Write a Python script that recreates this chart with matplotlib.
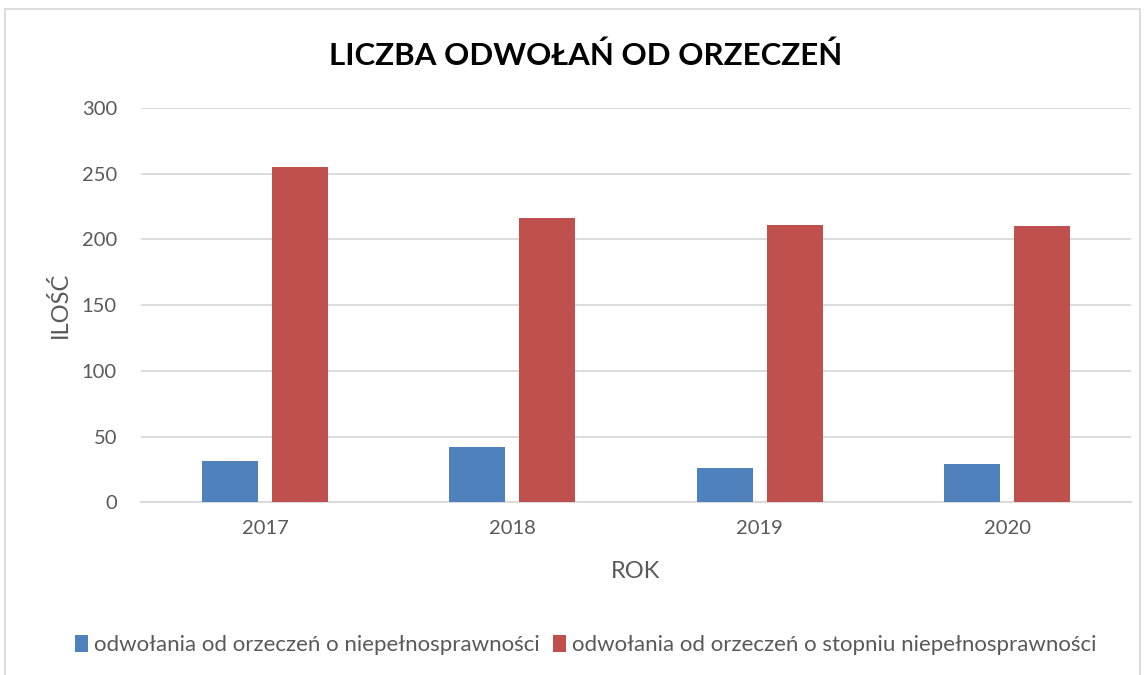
import matplotlib.pyplot as plt
import numpy as np
from matplotlib.patches import Rectangle

lata = ["2017", "2018", "2019", "2020"]
odwolania_niepeln = [31, 42, 26, 29]
odwolania_stopien = [255, 216, 211, 210]
etykiety = ["odwołania od orzeczeń o niepełnosprawności",
            "odwołania od orzeczeń o stopniu niepełnosprawności"]

plt.rcParams['font.family'] = ['Lato', 'DejaVu Sans']
szary = "#595959"

fig = plt.figure(figsize=(11.48, 6.75), dpi=100)
ax = fig.add_axes([0.123, 0.256, 0.862, 0.584])

x = np.arange(len(lata))
w = 0.226
ax.bar(x - 0.142, odwolania_niepeln, w, color="#4F81BD", label=etykiety[0], zorder=3)
ax.bar(x + 0.142, odwolania_stopien, w, color="#C0504D", label=etykiety[1], zorder=3)

ax.set_xlim(-0.5, len(lata) - 0.5)
ax.set_ylim(0, 300)
ax.set_yticks(range(0, 301, 50))
ax.set_xticks(x)
ax.set_xticklabels(lata)
ax.grid(axis="y", color="#d9d9d9", linewidth=1.3, zorder=0)
for s in ["top", "right", "left"]:
    ax.spines[s].set_visible(False)
ax.spines["bottom"].set_color("#d9d9d9")
ax.spines["bottom"].set_linewidth(1.3)
ax.tick_params(length=0, labelsize=14.5, colors=szary)
ax.tick_params(axis="y", pad=17.5)
ax.tick_params(axis="x", pad=13)

ax.set_xlabel("ROK", fontsize=17, color=szary, labelpad=17)
ax.set_ylabel("ILOŚĆ", fontsize=17, color=szary, labelpad=8)

fig.text(0.51, 0.918, "LICZBA ODWOŁAŃ OD ORZECZEŃ", ha="center", va="center",
         fontsize=22.5, fontweight="bold", color="black")

fig.legend(loc="center", bbox_to_anchor=(0.51, 0.044), ncol=2, frameon=False,
           fontsize=16, labelcolor=szary, handlelength=0.6, handleheight=0.75,
           handletextpad=0.25, columnspacing=0.6)

fig.patches.append(Rectangle((0.004, -0.01), 0.989, 0.997, transform=fig.transFigure,
                             fill=False, edgecolor="#d9d9d9", linewidth=1.3))

fig.savefig("out.png", dpi=100)
